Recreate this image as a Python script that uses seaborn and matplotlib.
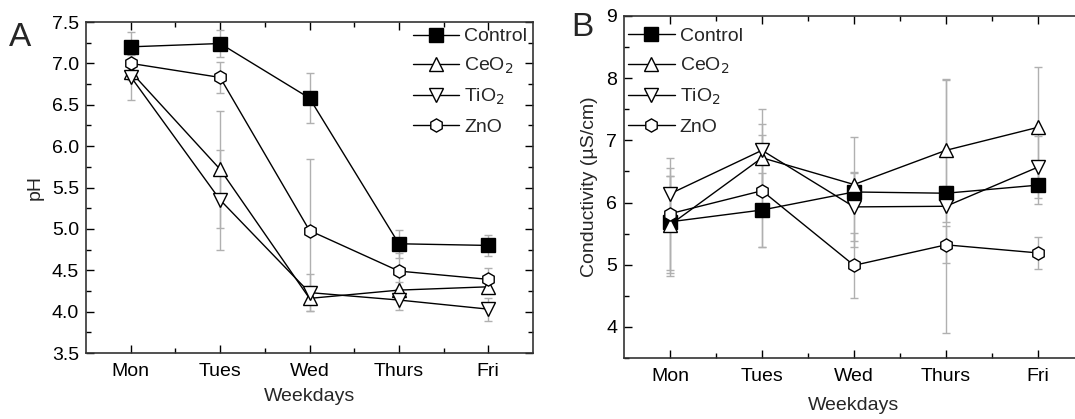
import numpy as np
import pandas as pd
import matplotlib
matplotlib.use("Agg")
import matplotlib.pyplot as plt
import seaborn as sns
from matplotlib.ticker import MultipleLocator, FixedLocator, FormatStrFormatter

sns.set_theme(style="ticks")
plt.rcParams['font.family'] = ['Liberation Sans', 'DejaVu Sans']

days = ["Mon", "Tues", "Wed", "Thurs", "Fri"]
series_names = ["Control", "CeO$_2$", "TiO$_2$", "ZnO"]

# Panel A: pH
ph_control = [7.20, 7.24, 6.58, 4.82, 4.80]
ph_ceo2 = [6.90, 5.72, 4.16, 4.26, 4.30]
ph_tio2 = [6.84, 5.35, 4.23, 4.14, 4.03]
ph_zno = [7.00, 6.83, 4.98, 4.49, 4.39]
ph_control_err = [0.18, 0.16, 0.30, 0.17, 0.13]
ph_ceo2_err = [0.10, 0.71, 0.15, 0.10, 0.08]
ph_tio2_err = [0.28, 0.60, 0.22, 0.12, 0.14]
ph_zno_err = [0.10, 0.19, 0.86, 0.22, 0.14]

# Panel B: Conductivity
co_control = [5.69, 5.88, 6.17, 6.15, 6.28]
co_ceo2 = [5.64, 6.72, 6.29, 6.84, 7.21]
co_tio2 = [6.14, 6.84, 5.93, 5.94, 6.57]
co_zno = [5.82, 6.19, 4.99, 5.32, 5.19]
co_control_err = [0.87, 0.60, 0.88, 0.12, 0.30]
co_ceo2_err = [0.78, 0.55, 0.20, 1.15, 0.97]
co_tio2_err = [0.28, 0.66, 0.55, 2.03, 0.50]
co_zno_err = [0.90, 0.90, 0.52, 0.30, 0.26]

markers = ["s", "^", "v", "h"]
faces = ["black", "white", "white", "white"]

fig = plt.figure(figsize=(10.75, 4.19), dpi=100)
W, H = 1075, 419
axA = fig.add_axes([86 / W, 1 - 353 / H, (533 - 86) / W, (353 - 22) / H])
axB = fig.add_axes([624 / W, 1 - 358 / H, (1084 - 624) / W, (358 - 16) / H])

FS = 14


def draw(ax, vals, errs, ylabel, ylim, major, minor, legloc, legbbox,
         xlabelpad):
    for name, v, e, m, f in zip(series_names, vals, errs, markers, faces):
        df = pd.DataFrame({"day": days, "val": v})
        ax.errorbar(days, v, yerr=e, fmt="none", ecolor="#b0b0b0",
                    elinewidth=1.0, capsize=3, capthick=1.0, zorder=1)
        sns.lineplot(data=df, x="day", y="val", ax=ax, sort=False,
                     color="black", linewidth=1.0, marker=m, markersize=9.5,
                     markerfacecolor=f, markeredgecolor="black",
                     markeredgewidth=1.0, label=name, zorder=3)
    ax.set_xlim(-0.5, 4.5)
    ax.set_ylim(*ylim)
    ax.yaxis.set_major_locator(MultipleLocator(major))
    ax.yaxis.set_minor_locator(MultipleLocator(minor))
    ax.xaxis.set_minor_locator(FixedLocator([0.5, 1.5, 2.5, 3.5]))
    ax.tick_params(which="both", direction="in", top=True, right=True,
                   labelsize=FS, colors="black", width=1.0)
    ax.tick_params(which="major", length=6)
    ax.tick_params(which="minor", length=3.5)
    ax.tick_params(axis="x", pad=7)
    ax.tick_params(axis="y", pad=5)
    ax.set_xlabel("Weekdays", fontsize=FS, labelpad=xlabelpad)
    ax.set_ylabel(ylabel, fontsize=FS, labelpad=6)
    for s in ax.spines.values():
        s.set_linewidth(1.2)
        s.set_color("#333333")
    ax.legend(loc=legloc, bbox_to_anchor=legbbox, frameon=False, fontsize=FS,
              handlelength=2.4, handletextpad=0.25, labelspacing=0.55,
              borderpad=0.2, borderaxespad=0.1)


draw(axA, [ph_control, ph_ceo2, ph_tio2, ph_zno],
     [ph_control_err, ph_ceo2_err, ph_tio2_err, ph_zno_err],
     "pH", (3.5, 7.5), 0.5, 0.25, "upper right", (1.0, 1.0), 6)
axA.yaxis.set_major_formatter(FormatStrFormatter("%.1f"))

draw(axB, [co_control, co_ceo2, co_tio2, co_zno],
     [co_control_err, co_ceo2_err, co_tio2_err, co_zno_err],
     "Conductivity (\u00b5S/cm)", (3.5, 9.0), 1, 0.5, "upper left",
     (-0.004, 0.983), 9)

fig.text(9 / W, 1 - 37 / H, "A", fontsize=24, va="center", ha="left")
fig.text(571 / W, 1 - 28 / H, "B", fontsize=24, va="center", ha="left")

fig.savefig("out.png", dpi=100)
